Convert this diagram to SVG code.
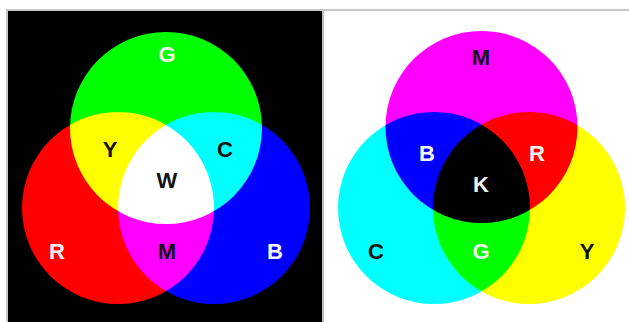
<svg xmlns="http://www.w3.org/2000/svg" width="629" height="322" viewBox="0 0 629 322">
<style>
.lbl{font-family:"Liberation Sans",Arial,sans-serif;font-weight:bold;font-size:22px;text-anchor:middle}
.w{fill:#f4f4f4}
.k{fill:#111}
.add circle{mix-blend-mode:screen}
.sub circle{mix-blend-mode:multiply}
</style>
<rect x="0" y="0" width="629" height="322" fill="#ffffff"/>
<rect x="6" y="9" width="623" height="2" fill="#c8c8c8"/>
<rect x="6" y="9" width="2" height="313" fill="#c8c8c8"/>
<g id="additive" class="add" style="isolation:isolate">
  <rect x="8" y="11" width="314" height="311" fill="#000000"/>
  <circle id="green" cx="166" cy="128" r="96" fill="#00ff00"/>
  <circle id="red" cx="118" cy="208" r="96" fill="#ff0000"/>
  <circle id="blue" cx="214" cy="208" r="96" fill="#0000ff"/>
</g>
<rect x="322" y="11" width="2" height="311" fill="#bdbdbd"/>
<g id="subtractive" class="sub" style="isolation:isolate">
  <rect x="324" y="11" width="305" height="311" fill="#ffffff"/>
  <circle id="magenta" cx="481.5" cy="127" r="96" fill="#ff00ff"/>
  <circle id="cyan" cx="434" cy="208" r="96" fill="#00ffff"/>
  <circle id="yellow" cx="529" cy="208" r="96" fill="#ffff00"/>
</g>
<g id="labels-left">
  <text class="lbl w" x="167" y="62">G</text>
  <text class="lbl k" x="110" y="157">Y</text>
  <text class="lbl k" x="225" y="157">C</text>
  <text class="lbl k" x="167" y="188">W</text>
  <text class="lbl w" x="57" y="259">R</text>
  <text class="lbl k" x="167" y="259">M</text>
  <text class="lbl w" x="275" y="259">B</text>
</g>
<g id="labels-right">
  <text class="lbl k" x="481" y="65">M</text>
  <text class="lbl w" x="427" y="161">B</text>
  <text class="lbl w" x="537" y="161">R</text>
  <text class="lbl w" x="481" y="192">K</text>
  <text class="lbl k" x="376" y="259">C</text>
  <text class="lbl w" x="481" y="259">G</text>
  <text class="lbl k" x="587" y="259">Y</text>
</g>
</svg>
